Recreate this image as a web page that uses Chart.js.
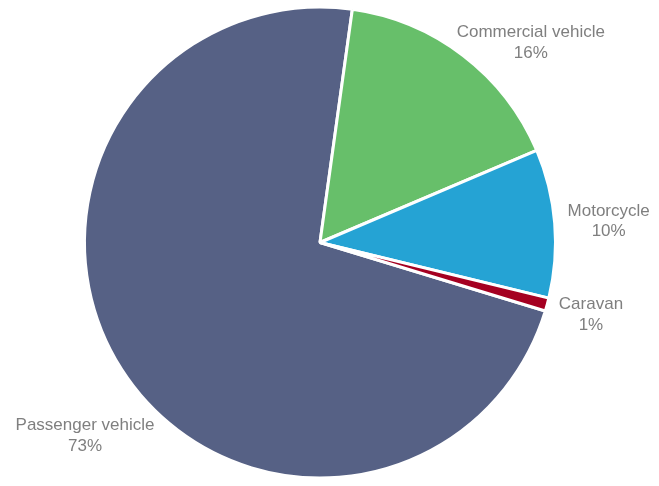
<!DOCTYPE html>
<html>
<head>
<meta charset="utf-8">
<script src="https://cdn.jsdelivr.net/npm/chart.js@4.4.1/dist/chart.umd.min.js"></script>
<style>
    html, body { margin: 0; padding: 0; background: #ffffff; }
    #wrap { width: 659px; height: 486px; position: relative; }
</style>
</head>
<body>
<div id="wrap"><canvas id="vehicleChart"></canvas></div>
<script>
const categories = ["Passenger vehicle", "Commercial vehicle", "Motorcycle", "Caravan"];
const shares = [72.5, 16.4, 10.2, 0.9];
const sliceColors = ["#566185", "#67bf6a", "#25a3d4", "#a50021"];

// pixel nudges for the outside labels, same order as categories
const labelNudge = [[27, 51], [19, 7], [7, -1], [7, 2]];

const outsideLabels = {
    id: "outsideLabels",
    afterDatasetsDraw(chart) {
        const ctx = chart.ctx;
        const meta = chart.getDatasetMeta(0);
        const gap = 6;
        const lineH = 20.5;
        ctx.save();
        ctx.font = "17px 'Liberation Sans', Arial, sans-serif";
        ctx.fillStyle = "#7f7f7f";
        ctx.textAlign = "center";
        ctx.textBaseline = "alphabetic";
        meta.data.forEach((arc, i) => {
            const p = arc.getProps(["x", "y", "startAngle", "endAngle", "outerRadius"], true);
            const mid = (p.startAngle + p.endAngle) / 2;
            const ux = Math.cos(mid);
            const uy = Math.sin(mid);
            const lines = [categories[i], Math.round(shares[i]) + "%"];
            const w = Math.max(...lines.map(t => ctx.measureText(t).width));
            const h = lineH * 2;
            const cx = p.x + (p.outerRadius + gap) * ux + ux * w / 2 + labelNudge[i][0];
            const cy = p.y + (p.outerRadius + gap) * uy + uy * h / 2 + labelNudge[i][1];
            ctx.fillText(lines[0], cx, cy - lineH / 2 + 6);
            ctx.fillText(lines[1], cx, cy + lineH / 2 + 6);
        });
        ctx.restore();
    }
};

new Chart(document.getElementById("vehicleChart").getContext("2d"), {
    type: "pie",
    data: {
        labels: categories,
        datasets: [{
            data: shares,
            backgroundColor: sliceColors,
            borderColor: "#ffffff",
            borderWidth: 3,
            hoverOffset: 0
        }]
    },
    options: {
        responsive: true,
        maintainAspectRatio: false,
        animation: false,
        rotation: 106.9,
        layout: {
            padding: { left: 83, right: 102, top: 5, bottom: 6 }
        },
        plugins: {
            legend: { display: false },
            tooltip: { enabled: false }
        }
    },
    plugins: [outsideLabels]
});
</script>
</body>
</html>
